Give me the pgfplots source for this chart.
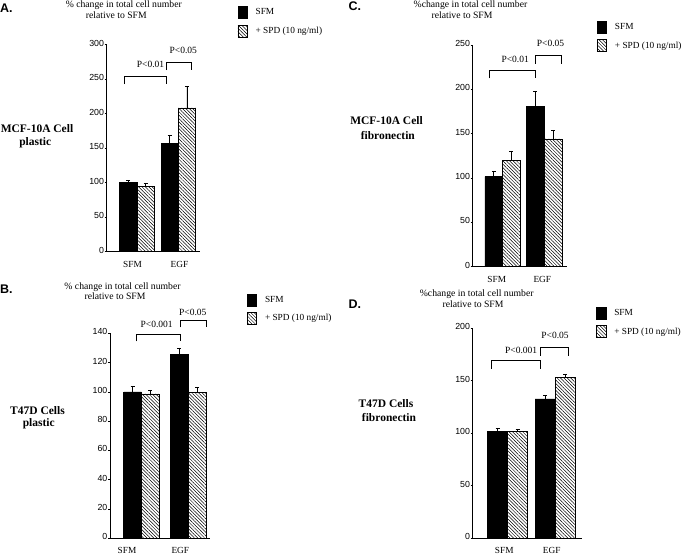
\documentclass[border=0pt]{standalone}
\usepackage{fontspec}
\setmainfont{Liberation Serif}
\newfontfamily\sans{Liberation Sans}
\usepackage{pgfplots}
\pgfplotsset{compat=1.18}
\usetikzlibrary{patterns.meta}

\newcommand\tickfont{\sans\fontsize{8.8}{9}\selectfont}
\newcommand\labfont{\fontsize{9.3}{10}\selectfont}
\newcommand\plab{\fontsize{9.5}{10}\selectfont}
\newcommand\legfont{\fontsize{9.3}{10}\selectfont}
\newcommand\ttl{\fontsize{9.7}{10}\selectfont}
\newcommand\side{\bfseries\fontsize{11.5}{14}\selectfont}
\newcommand\letter{\sans\bfseries\fontsize{12.5}{13}\selectfont}

\tikzset{brk/.style={line width=0.7pt}}
\pgfplotsset{
  panel/.style={
    ybar=0pt, bar width=#1,
    scale only axis, anchor=south west,
    axis lines=left, axis line style={-, line width=0.8pt},
    ymin=0, enlargelimits=false, clip=false,
    xtick style={draw=none},
    ytick style={line width=0.6pt, black},
    tick align=outside, major tick length=2pt,
    yticklabel style={font=\tickfont, inner sep=0.5pt, yshift=1.5pt},
    xticklabel style={font=\labfont, inner sep=0pt},
    xticklabels={SFM,EGF},
    /pgf/number format/assume math mode=true,
    legend style={draw=none, fill=none, anchor=north west, font=\legfont,
      inner sep=0pt, row sep=6pt,
      /tikz/every odd column/.append style={column sep=6pt}},
    legend cell align=left,
    legend image code/.code={\draw[##1,line width=0.6pt] (0pt,-6pt) rectangle (9.5pt,6pt);},
  },
  sfm/.style={fill=black, draw=black, line width=0.6pt,
    /pgfplots/error bars/y dir=plus, /pgfplots/error bars/y explicit,
    /pgfplots/error bars/error bar style={line width=0.8pt, black, solid},
    /pgfplots/error bars/error mark options={rotate=90, mark size=2pt, line width=0.8pt, black}},
  spd/.style={fill=white, draw=black, line width=0.6pt,
    pattern={Lines[angle=-45, distance=2.4pt, line width=0.5pt]},
    /pgfplots/error bars/y dir=plus, /pgfplots/error bars/y explicit,
    /pgfplots/error bars/error bar style={line width=0.8pt, black, solid},
    /pgfplots/error bars/error mark options={rotate=90, mark size=2pt, line width=0.8pt, black}},
}

\begin{document}
\begin{tikzpicture}
\path[use as bounding box] (0,0) rectangle (685pt,554pt);

% A: MCF-10A on plastic
\begin{axis}[panel=17.3pt, at={(106.7pt,302.5pt)}, width=93.3pt, height=207pt,
  xmin=0.266, xmax=2.525, ymax=300, ytick={0,50,...,300},
  xtick={0.891,2.029}, xticklabel style={yshift=-8pt},
  legend style={at={(1.400,1.186)}}]
\addplot[sfm] coordinates {(1,100) +- (0,3.5) (2,157) +- (0,11.5)};
\addplot[spd] coordinates {(1,94) +- (0,5) (2,208) +- (0,31)};
\legend{SFM, + SPD (10 ng/ml)}
\draw[brk] (axis cs:0.685,242.7) |- (axis cs:1.719,254.3) -- (axis cs:1.719,242.7);
\draw[brk] (axis cs:1.719,263) |- (axis cs:2.308,274.6) -- (axis cs:2.308,263);
\node[font=\plab] at (axis cs:1.327,270.7) {P<0.01};
\node[font=\plab] at (axis cs:2.121,291.6) {P<0.05};
\end{axis}

% B: T47D on plastic
\begin{axis}[panel=17.7pt, at={(110pt,15.7pt)}, width=100pt, height=205pt,
  xmin=0.327, xmax=2.464, ymax=140, ytick={0,20,...,140},
  xtick={0.69,1.829}, xticklabel style={yshift=-6.5pt},
  legend style={at={(1.367,1.195)}}]
\addplot[sfm] coordinates {(1,100) +- (0,4) (2,125.5) +- (0,4.5)};
\addplot[spd] coordinates {(1,98.6) +- (0,2.2) (2,99.7) +- (0,3.4)};
\legend{SFM, + SPD (10 ng/ml)}
\draw[brk] (axis cs:0.897,134.4) |- (axis cs:1.823,139.4) -- (axis cs:1.823,134.4);
\draw[brk] (axis cs:1.823,144) |- (axis cs:2.379,148.7) -- (axis cs:2.379,144);
\node[font=\plab] at (axis cs:1.325,146) {P<0.001};
\node[font=\plab] at (axis cs:2.096,154.6) {P<0.05};
\end{axis}

% C: MCF-10A on fibronectin
\begin{axis}[panel=17.7pt, at={(472.7pt,287.3pt)}, width=94pt, height=221.7pt,
  xmin=0.283, xmax=2.537, ymax=250, ytick={0,50,...,250},
  xtick={0.859,1.952}, xticklabel style={yshift=-7.5pt},
  legend style={at={(1.319,1.110)}}]
\addplot[sfm] coordinates {(1,101.5) +- (0,5.6) (2,180.5) +- (0,17)};
\addplot[spd] coordinates {(1,120.3) +- (0,10.2) (2,144) +- (0,9.4)};
\legend{SFM, + SPD (10 ng/ml)}
\draw[brk] (axis cs:0.681,212.4) |- (axis cs:1.794,221) -- (axis cs:1.794,212.4);
\draw[brk] (axis cs:1.794,228.6) |- (axis cs:2.400,238.7) -- (axis cs:2.400,228.6);
\node[font=\plab] at (axis cs:1.302,234) {P<0.01};
\node[font=\plab] at (axis cs:2.149,252) {P<0.05};
\end{axis}

% D: T47D on fibronectin
\begin{axis}[panel=20pt, at={(472.7pt,15.7pt)}, width=109pt, height=210pt,
  xmin=0.26, xmax=2.564, ymax=200, ytick={0,50,...,200},
  xtick={0.926,1.93}, xticklabel style={yshift=-6.5pt},
  legend style={at={(1.131,1.103)}}]
\addplot[sfm] coordinates {(1,101.6) +- (0,3.4) (2,132.7) +- (0,3.5)};
\addplot[spd] coordinates {(1,101.6) +- (0,2.2) (2,153) +- (0,2.9)};
\legend{SFM, + SPD (10 ng/ml)}
\draw[brk] (axis cs:0.662,161.3) |- (axis cs:1.683,169.8) -- (axis cs:1.683,161.3);
\draw[brk] (axis cs:1.683,173.7) |- (axis cs:2.281,181.9) -- (axis cs:2.281,173.7);
\node[font=\plab] at (axis cs:1.285,178.6) {P<0.001};
\node[font=\plab] at (axis cs:2.0,193.3) {P<0.05};
\end{axis}

% texts placed in image pixels, y measured from the top
\begin{scope}[x=1pt, y=-1pt, yshift=554pt]
\node[font=\letter, anchor=west, inner sep=0pt] at (0,8) {A.};
\node[font=\letter, anchor=west, inner sep=0pt] at (0,289.5) {B.};
\node[font=\letter, anchor=west, inner sep=0pt] at (348.3,6.2) {C.};
\node[font=\letter, anchor=west, inner sep=0pt] at (348.3,304.7) {D.};

\node[font=\ttl, inner sep=0pt] at (123.8,5.5) {\% change in total cell number};
\node[font=\ttl, inner sep=0pt] at (116.3,15.5) {relative to SFM};
\node[font=\ttl, inner sep=0pt] at (122.5,287) {\% change in total cell number};
\node[font=\ttl, inner sep=0pt] at (115,296) {relative to SFM};
\node[font=\ttl, inner sep=0pt] at (470.5,5.5) {\%change in total cell number};
\node[font=\ttl, inner sep=0pt] at (462,15.5) {relative to SFM};
\node[font=\ttl, inner sep=0pt] at (476.7,294) {\%change in total cell number};
\node[font=\ttl, inner sep=0pt] at (473,303.7) {relative to SFM};

\node[font=\side, inner sep=0pt] at (37,129) {MCF-10A Cell};
\node[font=\side, inner sep=0pt] at (35.3,143) {plastic};
\node[font=\side, inner sep=0pt] at (37.5,410.8) {T47D Cells};
\node[font=\side, inner sep=0pt] at (38.8,424) {plastic};
\node[font=\side, inner sep=0pt] at (386.5,120.8) {MCF-10A Cell};
\node[font=\side, inner sep=0pt] at (387.8,135.8) {fibronectin};
\node[font=\side, inner sep=0pt] at (386,404) {T47D Cells};
\node[font=\side, inner sep=0pt] at (389,417.5) {fibronectin};
\end{scope}
\end{tikzpicture}
\end{document}
